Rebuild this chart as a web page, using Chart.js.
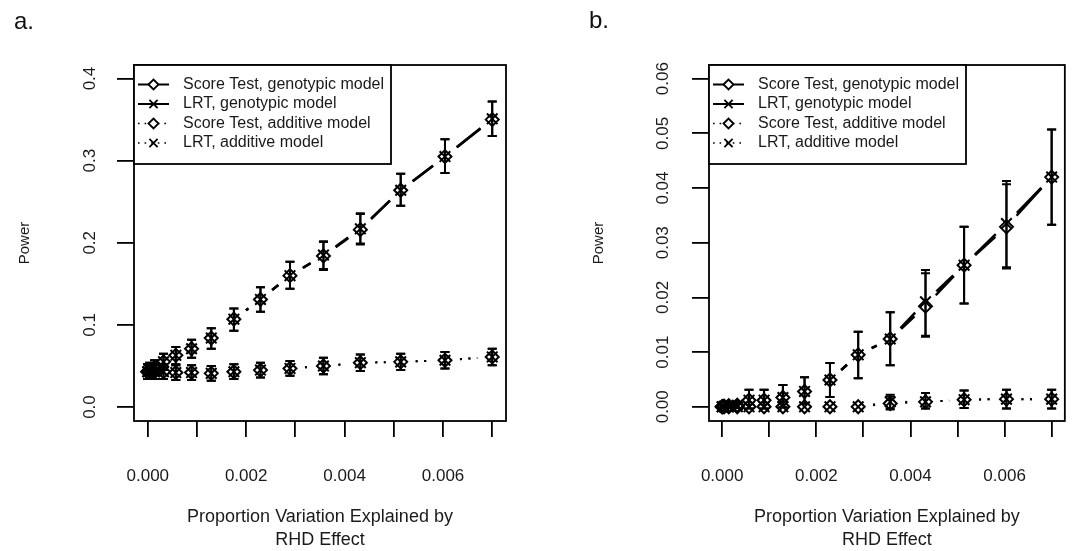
<!DOCTYPE html>
<html>
<head>
<meta charset="utf-8">
<script src="https://cdn.jsdelivr.net/npm/chart.js@4.4.1/dist/chart.umd.min.js"></script>
<style>
  body { margin: 0; background: #fff; }
  #wrap { position: relative; width: 1081px; height: 551px; }
  canvas { position: absolute; left: 0; top: 0; }
  .tag { position: absolute; font: 24px "Liberation Sans", Arial, sans-serif; line-height: 24px; color: #111; }
</style>
</head>
<body>
<div id="wrap">
  <canvas id="chartA" width="1081" height="551"></canvas>
  <canvas id="chartB" width="1081" height="551"></canvas>
  <div class="tag" style="left:14px; top:9px">a.</div>
  <div class="tag" style="left:589px; top:8px">b.</div>
</div>
<script>
const FONT = '"Liberation Sans", Arial, sans-serif';
const INK = '#1a1a1a';

// proportion of variation explained (same grid in both panels)
const effectX = [0, 0.00004, 0.00014, 0.00032, 0.00057, 0.00089, 0.00129, 0.00175, 0.00229, 0.00289, 0.00357, 0.00432, 0.00514, 0.00604, 0.007];

const seriesNames = ['Score Test, genotypic model', 'LRT, genotypic model', 'Score Test, additive model', 'LRT, additive model'];

const xTicks = [0, 0.001, 0.002, 0.003, 0.004, 0.005, 0.006, 0.007];
const xTickLabels = ['0.000', '', '0.002', '', '0.004', '', '0.006', ''];
const xTitle = ['Proportion Variation Explained by', 'RHD Effect'];
const yTitle = 'Power';

// panel a
const aYTicks = [0, 0.1, 0.2, 0.3, 0.4];
const aYTickLabels = ['0.0', '0.1', '0.2', '0.3', '0.4'];
const aScoreGeno   = [0.043, 0.045, 0.048, 0.055, 0.063, 0.071, 0.084, 0.107, 0.131, 0.160, 0.184, 0.216, 0.264, 0.305, 0.350];
const aScoreGenoLo = [0.034, 0.036, 0.039, 0.045, 0.052, 0.060, 0.071, 0.093, 0.116, 0.144, 0.167, 0.198, 0.245, 0.285, 0.330];
const aScoreGenoHi = [0.052, 0.054, 0.057, 0.065, 0.073, 0.082, 0.096, 0.120, 0.146, 0.177, 0.201, 0.235, 0.284, 0.326, 0.372];
const aLrtGeno     = [0.043, 0.045, 0.048, 0.055, 0.063, 0.071, 0.084, 0.107, 0.131, 0.160, 0.185, 0.217, 0.264, 0.305, 0.351];
const aLrtGenoLo   = [0.034, 0.036, 0.039, 0.045, 0.052, 0.060, 0.071, 0.093, 0.116, 0.144, 0.168, 0.199, 0.245, 0.285, 0.330];
const aLrtGenoHi   = [0.052, 0.054, 0.057, 0.065, 0.073, 0.082, 0.096, 0.120, 0.146, 0.177, 0.202, 0.236, 0.284, 0.326, 0.372];
const aScoreAdd    = [0.043, 0.043, 0.043, 0.043, 0.042, 0.042, 0.041, 0.043, 0.045, 0.047, 0.050, 0.054, 0.055, 0.057, 0.061];
const aScoreAddLo  = [0.034, 0.034, 0.034, 0.034, 0.033, 0.033, 0.032, 0.034, 0.036, 0.038, 0.040, 0.044, 0.045, 0.047, 0.051];
const aScoreAddHi  = [0.052, 0.052, 0.052, 0.052, 0.051, 0.051, 0.050, 0.052, 0.054, 0.056, 0.060, 0.064, 0.065, 0.067, 0.071];
const aLrtAdd      = [0.043, 0.043, 0.043, 0.043, 0.042, 0.042, 0.041, 0.043, 0.045, 0.047, 0.050, 0.054, 0.055, 0.057, 0.061];
const aLrtAddLo    = [0.034, 0.034, 0.034, 0.034, 0.033, 0.033, 0.032, 0.034, 0.036, 0.038, 0.040, 0.044, 0.045, 0.047, 0.051];
const aLrtAddHi    = [0.052, 0.052, 0.052, 0.052, 0.051, 0.051, 0.050, 0.052, 0.054, 0.056, 0.060, 0.064, 0.065, 0.067, 0.071];

// panel b
const bYTicks = [0, 0.01, 0.02, 0.03, 0.04, 0.05, 0.06];
const bYTickLabels = ['0.00', '0.01', '0.02', '0.03', '0.04', '0.05', '0.06'];
const bScoreGeno   = [0, 0.0001, 0.0002, 0.0003, 0.0012, 0.0012, 0.0017, 0.0028, 0.0049, 0.0095, 0.0124, 0.0184, 0.0259, 0.0329, 0.0420];
const bScoreGenoLo = [0, -0.0001, -0.0002, -0.0002, -0.0003, -0.0003, -0.0001, 0.0005, 0.0018, 0.0052, 0.0076, 0.0128, 0.0189, 0.0253, 0.0333];
const bScoreGenoHi = [0, 0.0003, 0.0006, 0.0008, 0.0031, 0.0031, 0.0040, 0.0054, 0.0080, 0.0137, 0.0173, 0.0244, 0.0329, 0.0407, 0.0507];
const bLrtGeno     = [0, 0.0001, 0.0002, 0.0003, 0.0012, 0.0012, 0.0017, 0.0028, 0.0049, 0.0095, 0.0124, 0.0192, 0.0259, 0.0335, 0.0420];
const bLrtGenoLo   = [0, -0.0001, -0.0002, -0.0002, -0.0003, -0.0003, -0.0001, 0.0005, 0.0018, 0.0052, 0.0076, 0.0130, 0.0189, 0.0255, 0.0333];
const bLrtGenoHi   = [0, 0.0003, 0.0006, 0.0008, 0.0031, 0.0031, 0.0040, 0.0054, 0.0080, 0.0137, 0.0173, 0.0250, 0.0329, 0.0413, 0.0507];
const bScoreAdd    = [0, 0, 0, 0, 0, 0, 0, 0, 0, 0, 0.0006, 0.0009, 0.0013, 0.0014, 0.0014];
const bScoreAddLo  = [0, 0, 0, 0, 0, 0, 0, 0, 0, 0, -0.0005, -0.0003, -0.0002, -0.0003, -0.0003];
const bScoreAddHi  = [0, 0, 0, 0, 0, 0, 0, 0, 0, 0, 0.0019, 0.0025, 0.0030, 0.0031, 0.0031];
const bLrtAdd      = [0, 0, 0, 0, 0, 0, 0, 0, 0, 0, 0.0009, 0.0009, 0.0013, 0.0014, 0.0014];
const bLrtAddLo    = [0, 0, 0, 0, 0, 0, 0, 0, 0, 0, -0.0003, -0.0003, -0.0002, -0.0003, -0.0003];
const bLrtAddHi    = [0, 0, 0, 0, 0, 0, 0, 0, 0, 0, 0.0022, 0.0025, 0.0030, 0.0031, 0.0031];

const GAP = 15;   // type="b" style gap around each marker
const CAP = 4.5;  // half width of the error bar caps

function series(label, vals, lo, hi, style, dotted) {
  return {
    label,
    data: effectX.map((x, i) => ({ x, y: vals[i] })),
    lo, hi, dotted,
    showLine: false,
    pointStyle: style,
    pointRadius: style === 'rectRot' ? 6.5 : 7.5,
    pointBorderWidth: 2,
    pointBorderColor: '#000',
    pointBackgroundColor: 'rgba(0,0,0,0)'
  };
}

// connecting segments (cut short near markers) + error bars
const typeB = {
  id: 'typeB',
  beforeDatasetsDraw(chart) {
    const { ctx } = chart;
    const y = chart.scales.y;
    ctx.save();
    ctx.strokeStyle = '#000';
    ctx.lineCap = 'butt';
    chart.data.datasets.forEach((ds, i) => {
      const pts = chart.getDatasetMeta(i).data;
      ctx.lineWidth = ds.dotted ? 2 : 2.5;
      ctx.setLineDash(ds.dotted ? [2, 6.5] : []);
      for (let j = 1; j < pts.length; j++) {
        const a = pts[j - 1], b = pts[j];
        const dx = b.x - a.x, dy = b.y - a.y, len = Math.hypot(dx, dy);
        if (len <= 2 * GAP) continue;
        const ux = dx / len, uy = dy / len;
        ctx.beginPath();
        ctx.moveTo(a.x + ux * GAP, a.y + uy * GAP);
        ctx.lineTo(b.x - ux * GAP, b.y - uy * GAP);
        ctx.stroke();
      }
      ctx.setLineDash([]);
      ctx.lineWidth = 2;
      pts.forEach((p, j) => {
        const top = y.getPixelForValue(ds.hi[j]);
        const bot = y.getPixelForValue(ds.lo[j]);
        if (bot - top < 1) return;
        ctx.beginPath();
        ctx.moveTo(p.x, top); ctx.lineTo(p.x, bot);
        ctx.moveTo(p.x - CAP, top); ctx.lineTo(p.x + CAP, top);
        ctx.moveTo(p.x - CAP, bot); ctx.lineTo(p.x + CAP, bot);
        ctx.stroke();
      });
    });
    ctx.restore();
  }
};

// plot frame and R style legend in the top left corner
const frame = {
  id: 'frame',
  afterDatasetsDraw(chart) {
    const { ctx, chartArea: ca } = chart;
    ctx.save();
    ctx.strokeStyle = '#000';
    ctx.lineWidth = 1.8;
    ctx.strokeRect(ca.left, ca.top, ca.right - ca.left, ca.bottom - ca.top);

    const lw = 257, lh = 99;
    ctx.fillStyle = '#fff';
    ctx.fillRect(ca.left, ca.top, lw, lh);
    ctx.strokeRect(ca.left, ca.top, lw, lh);

    ctx.font = `16px ${FONT}`;
    ctx.textBaseline = 'middle';
    chart.data.datasets.forEach((ds, i) => {
      const ry = ca.top + 19.5 + 19.5 * i;
      ctx.strokeStyle = '#000';
      ctx.lineWidth = ds.dotted ? 1.6 : 2;
      ctx.setLineDash(ds.dotted ? [1.6, 5] : []);
      ctx.beginPath();
      ctx.moveTo(ca.left + 4, ry);
      ctx.lineTo(ca.left + 35, ry);
      ctx.stroke();
      ctx.setLineDash([]);
      ctx.fillStyle = '#fff';
      ctx.lineWidth = 1.8;
      Chart.helpers.drawPoint(ctx, {
        pointStyle: ds.pointStyle,
        radius: ds.pointStyle === 'rectRot' ? 5 : 5.8,
        borderWidth: 1.8,
        rotation: 0
      }, ca.left + 19.5, ry);
      ctx.fillStyle = INK;
      ctx.fillText(ds.label, ca.left + 49, ry);
    });
    ctx.restore();
  }
};

function makeChart(id, p) {
  return new Chart(document.getElementById(id), {
    type: 'scatter',
    data: {
      datasets: [
        series(seriesNames[0], p.scoreGeno, p.scoreGenoLo, p.scoreGenoHi, 'rectRot', false),
        series(seriesNames[1], p.lrtGeno, p.lrtGenoLo, p.lrtGenoHi, 'crossRot', false),
        series(seriesNames[2], p.scoreAdd, p.scoreAddLo, p.scoreAddHi, 'rectRot', true),
        series(seriesNames[3], p.lrtAdd, p.lrtAddLo, p.lrtAddHi, 'crossRot', true)
      ]
    },
    options: {
      responsive: false,
      animation: false,
      events: [],
      layout: { padding: { left: p.padLeft, right: p.padRight, top: 65, bottom: 0 } },
      plugins: { legend: { display: false }, tooltip: { enabled: false } },
      scales: {
        x: {
          type: 'linear',
          bounds: 'data',
          min: -0.00028,
          max: 0.00728,
          afterBuildTicks: s => { s.ticks = xTicks.map(v => ({ value: v })); },
          afterFit: s => { s.height = 130; },
          border: { display: false },
          grid: { drawOnChartArea: false, drawTicks: true, tickLength: 16, lineWidth: 1.8, tickWidth: 1.8, tickColor: '#000', color: '#000' },
          ticks: {
            autoSkip: false, maxRotation: 0, padding: 29, color: INK,
            font: { family: FONT, size: 17 },
            callback: (v, i) => xTickLabels[i]
          },
          title: {
            display: true, text: xTitle, color: INK,
            font: { family: FONT, size: 18, lineHeight: 1.25 },
            padding: { top: 0, bottom: 0 }
          }
        },
        y: {
          type: 'linear',
          bounds: 'data',
          min: p.yMin,
          max: p.yMax,
          afterBuildTicks: s => { s.ticks = p.yTicks.map(v => ({ value: v })); },
          afterFit: s => { s.width = 134; },
          border: { display: false },
          grid: { drawOnChartArea: false, drawTicks: true, tickLength: 17, lineWidth: 1.8, tickWidth: 1.8, tickColor: '#000', color: '#000' },
          ticks: {
            autoSkip: false, minRotation: 90, maxRotation: 90, crossAlign: 'center',
            padding: p.yTickPad, color: INK,
            font: { family: FONT, size: 17 },
            callback: (v, i) => p.yLabels[i]
          },
          title: {
            display: true, text: yTitle, color: INK,
            font: { family: FONT, size: 15 },
            padding: { top: p.yTitlePad, bottom: 0 }
          }
        }
      }
    },
    plugins: [typeB, frame]
  });
}

makeChart('chartA', {
  padLeft: 0, padRight: 575, yMin: -0.017, yMax: 0.4165,
  yTicks: aYTicks, yLabels: aYTickLabels, yTickPad: 15, yTitlePad: 16,
  scoreGeno: aScoreGeno, scoreGenoLo: aScoreGenoLo, scoreGenoHi: aScoreGenoHi,
  lrtGeno: aLrtGeno, lrtGenoLo: aLrtGenoLo, lrtGenoHi: aLrtGenoHi,
  scoreAdd: aScoreAdd, scoreAddLo: aScoreAddLo, scoreAddHi: aScoreAddHi,
  lrtAdd: aLrtAdd, lrtAddLo: aLrtAddLo, lrtAddHi: aLrtAddHi
});

makeChart('chartB', {
  padLeft: 575, padRight: 1, yMin: -0.0026, yMax: 0.0625,
  yTicks: bYTicks, yLabels: bYTickLabels, yTickPad: 12, yTitlePad: 14.5,
  scoreGeno: bScoreGeno, scoreGenoLo: bScoreGenoLo, scoreGenoHi: bScoreGenoHi,
  lrtGeno: bLrtGeno, lrtGenoLo: bLrtGenoLo, lrtGenoHi: bLrtGenoHi,
  scoreAdd: bScoreAdd, scoreAddLo: bScoreAddLo, scoreAddHi: bScoreAddHi,
  lrtAdd: bLrtAdd, lrtAddLo: bLrtAddLo, lrtAddHi: bLrtAddHi
});
</script>
</body>
</html>
